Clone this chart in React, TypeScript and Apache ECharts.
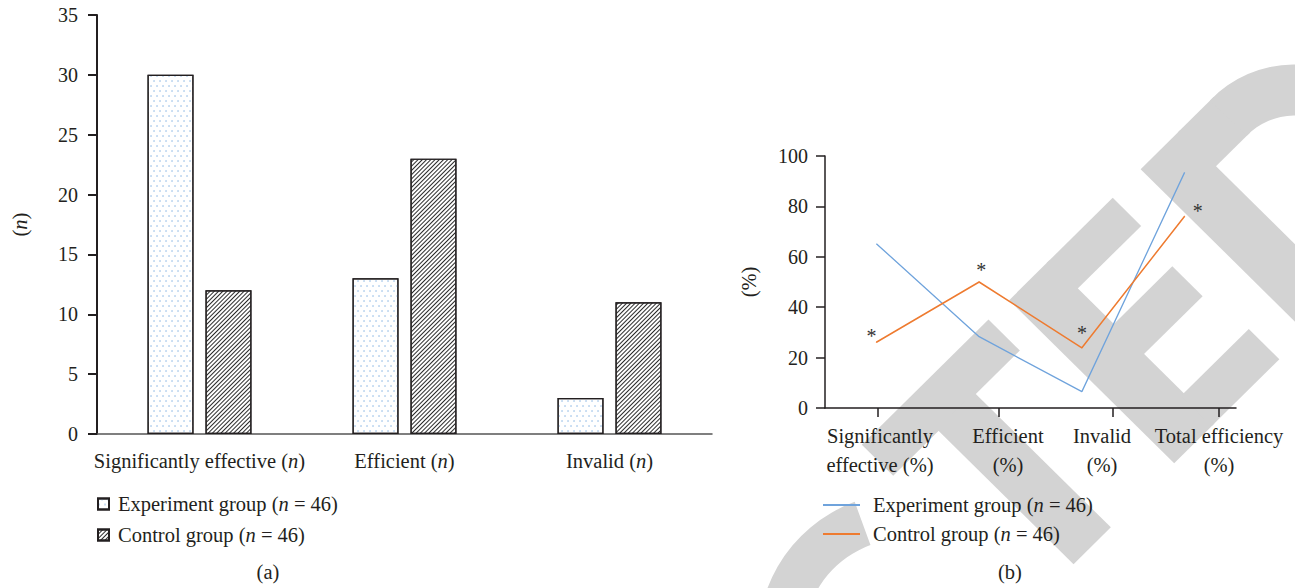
import React, { useEffect, useRef } from 'react';
import * as echarts from 'echarts';

// ---------- data ----------
const barCategories = ['Significantly effective (n)', 'Efficient (n)', 'Invalid (n)'];
const barExperiment = [30, 13, 3];
const barControl = [12, 23, 11];

const lineCategories = ['Significantly\neffective (%)', 'Efficient\n(%)', 'Invalid\n(%)', 'Total efficiency\n(%)'];
const lineExperiment = [65.2, 28.3, 6.5, 93.5];
const lineControl = [26.1, 50.0, 23.9, 76.1];
const significance = ['*', '*', '*', '*'];

const seriesNames = ['Experiment group (n = 46)', 'Control group (n = 46)'];
const panelLabels = ['(a)', '(b)'];

// ---------- styles ----------
const FONT = '"Liberation Serif", "DejaVu Serif", serif';
const FS = 20.5;
const FS_TICK = 20;
const TXT = '#231f20';
const BLUE = '#6fa3dc';
const ORANGE = '#ee7b30';
const GREY = '#d3d3d3';

const italicRich = {
  i: { fontStyle: 'italic', fontFamily: FONT, fontSize: FS, color: TXT },
};
const italicize = (s: string) => s.replace(/\(n/g, '({i|n}');

// watermark helper (rotated letters)
const SX = 2.635;
const SY = 2.667;
const stToPx = (s: number, t: number) => {
  const X = (s + t) / Math.SQRT2;
  const Y = (s - t) / Math.SQRT2;
  return [700 + X / SX, Y / SY];
};
const rectST = (s1: number, s2: number, t1: number, t2: number) => ({
  type: 'polygon',
  silent: true,
  z: -10,
  shape: { points: [stToPx(s1, t1), stToPx(s1, t2), stToPx(s2, t2), stToPx(s2, t1)] },
  style: { fill: GREY },
});

export default function App() {
  const ref = useRef<HTMLDivElement>(null);

  useEffect(() => {
    document.body.style.margin = '0';
    const chart = echarts.init(ref.current!, null, { renderer: 'svg' });

    const tickPos = [0.516, 1.693, 2.803, 3.835];
    const labelPos = [0.535, 1.781, 2.696, 3.835];
    const starOffsets = [[-5, -6], [2, -12], [0, -15], [13, -5]];

    const option: any = {
      animation: false,
      backgroundColor: '#fff',
      textStyle: { fontFamily: FONT },
      grid: [
        { left: 97, top: 15, width: 615, height: 419, outerBoundsMode: 'none' },
        { left: 825, top: 156, width: 411, height: 252, outerBoundsMode: 'none' },
      ],
      xAxis: [
        {
          type: 'category',
          gridIndex: 0,
          data: barCategories,
          axisLine: { lineStyle: { color: '#555', width: 1.5 } },
          axisTick: { alignWithLabel: true, length: 8, lineStyle: { color: TXT, width: 2 } },
          axisLabel: {
            interval: 0,
            margin: 16,
            fontSize: FS,
            fontFamily: FONT,
            color: TXT,
            formatter: (v: string) => italicize(v),
            rich: italicRich,
          },
        },
        {
          type: 'category',
          gridIndex: 1,
          data: lineCategories,
          boundaryGap: true,
          axisLine: { lineStyle: { color: TXT, width: 1.5 } },
          axisTick: { show: false },
          axisLabel: { show: false },
        },
        {
          type: 'value',
          gridIndex: 1,
          min: 0,
          max: 4,
          position: 'bottom',
          axisLine: { show: false },
          splitLine: { show: false },
          axisTick: { show: true, customValues: tickPos, length: 9, lineStyle: { color: TXT, width: 1.5 } },
          axisLabel: {
            customValues: labelPos,
            margin: 13,
            fontSize: FS,
            fontFamily: FONT,
            color: TXT,
            lineHeight: 29,
            align: 'center',
            formatter: (v: number) => {
              let best = 0;
              labelPos.forEach((p, i) => {
                if (Math.abs(p - v) < Math.abs(labelPos[best] - v)) best = i;
              });
              return lineCategories[best];
            },
          },
        },
      ],
      yAxis: [
        {
          type: 'value',
          gridIndex: 0,
          min: 0,
          max: 35,
          interval: 5,
          name: '({i|n})',
          nameLocation: 'middle',
          nameRotate: 90,
          nameGap: 67,
          nameTextStyle: { fontSize: FS, fontFamily: FONT, color: TXT, rich: italicRich },
          axisLine: { show: true, lineStyle: { color: TXT, width: 2 } },
          axisTick: { show: true, length: 9, lineStyle: { color: TXT, width: 2 } },
          axisLabel: { margin: 19, fontSize: FS_TICK, fontFamily: FONT, color: TXT },
          splitLine: { show: false },
        },
        {
          type: 'value',
          gridIndex: 1,
          min: 0,
          max: 100,
          interval: 20,
          name: '(%)',
          nameLocation: 'middle',
          nameRotate: 90,
          nameGap: 66,
          nameTextStyle: { fontSize: FS, fontFamily: FONT, color: TXT },
          axisLine: { show: true, lineStyle: { color: TXT, width: 1.5 } },
          axisTick: { show: true, length: 9, lineStyle: { color: TXT, width: 1.5 } },
          axisLabel: { margin: 17, fontSize: FS_TICK, fontFamily: FONT, color: TXT },
          splitLine: { show: false },
        },
      ],
      legend: [
        {
          orient: 'vertical',
          left: 97,
          top: 493,
          padding: 0,
          itemWidth: 11,
          itemHeight: 11,
          itemGap: 9,
          selectedMode: false,
          data: [
            { name: 'a:' + seriesNames[0], icon: 'rect' },
            { name: 'a:' + seriesNames[1], icon: 'rect' },
          ],
          formatter: (n: string) => italicize(n.slice(2)),
          textStyle: { fontSize: FS, fontFamily: FONT, color: TXT, lineHeight: 22, padding: [0, 0, 0, 4], rich: italicRich },
        },
        {
          orient: 'vertical',
          left: 823,
          top: 494,
          padding: 0,
          itemWidth: 37,
          itemHeight: 2,
          itemGap: 7,
          selectedMode: false,
          data: [
            { name: 'b:' + seriesNames[0], icon: 'rect' },
            { name: 'b:' + seriesNames[1], icon: 'rect' },
          ],
          formatter: (n: string) => italicize(n.slice(2)),
          textStyle: { fontSize: FS, fontFamily: FONT, color: TXT, lineHeight: 22, padding: [0, 0, 0, 8], rich: italicRich },
        },
      ],
      series: [
        {
          type: 'bar',
          name: 'a:' + seriesNames[0],
          xAxisIndex: 0,
          yAxisIndex: 0,
          data: barExperiment,
          barWidth: 46,
          barGap: '26%',
          itemStyle: {
            color: '#ffffff',
            borderColor: TXT,
            borderWidth: 1.2,
            decal: {
              symbol: 'circle',
              symbolSize: 0.7,
              color: '#7eaee0',
              backgroundColor: '#ffffff',
              dashArrayX: [[2, 4], [0, 3, 2, 1]],
              dashArrayY: [2, 3],
              rotation: 0,
            },
          },
        },
        {
          type: 'bar',
          name: 'a:' + seriesNames[1],
          xAxisIndex: 0,
          yAxisIndex: 0,
          data: barControl,
          barWidth: 46,
          itemStyle: {
            color: '#ffffff',
            borderColor: TXT,
            borderWidth: 1.2,
            decal: {
              symbol: 'rect',
              symbolSize: 1,
              color: '#2a2a2a',
              backgroundColor: '#ffffff',
              dashArrayX: [1, 0],
              dashArrayY: [0.9, 1.8],
              rotation: -Math.PI / 4,
            },
          },
        },
        {
          type: 'line',
          name: 'b:' + seriesNames[0],
          xAxisIndex: 1,
          yAxisIndex: 1,
          data: lineExperiment,
          symbol: 'none',
          lineStyle: { color: BLUE, width: 1.3 },
          itemStyle: { color: BLUE },
          z: 3,
        },
        {
          type: 'line',
          name: 'b:' + seriesNames[1],
          xAxisIndex: 1,
          yAxisIndex: 1,
          data: lineControl.map((v, i) => ({ value: v, label: { offset: starOffsets[i] } })),
          symbol: 'circle',
          symbolSize: 1,
          showSymbol: true,
          lineStyle: { color: ORANGE, width: 1.5 },
          itemStyle: { color: ORANGE },
          label: {
            show: true,
            position: 'inside',
            formatter: (p: any) => significance[p.dataIndex],
            fontSize: 20,
            fontFamily: FONT,
            color: '#333',
          },
          z: 4,
        },
      ],
      graphic: [
        // watermark: rotated letters (T, E, D, C arc)
        rectST(1140, 1257, -537, -65),
        rectST(1250, 1760, -368, -229),
        rectST(1142, 1757, 10, 160),
        rectST(1142, 1248, 150, 396),
        rectST(1382, 1495, 150, 378),
        rectST(1643, 1757, 150, 402),
        rectST(1140, 1760, 502, 648),
        rectST(1140, 1275, 640, 775),
        rectST(1625, 1760, 640, 775),
        {
          type: 'sector',
          silent: true,
          z: -10,
          shape: { cx: 1294.3, cy: 181.5, r: 117, r0: 66, startAngle: -3 * Math.PI / 4 - 0.02, endAngle: Math.PI / 4 + 0.02, clockwise: true },
          style: { fill: GREY },
        },
        {
          type: 'sector',
          silent: true,
          z: -10,
          shape: { cx: 905, cy: 640, r: 147, r0: 101, startAngle: (10 * Math.PI) / 180, endAngle: (250 * Math.PI) / 180, clockwise: true },
          style: { fill: GREY },
        },
        {
          type: 'text',
          silent: true,
          style: { text: panelLabels[0], x: 268, y: 572, fontSize: FS, fontFamily: FONT, fill: TXT, textAlign: 'center', textVerticalAlign: 'middle' },
        },
        {
          type: 'text',
          silent: true,
          style: { text: panelLabels[1], x: 1010, y: 572, fontSize: FS, fontFamily: FONT, fill: TXT, textAlign: 'center', textVerticalAlign: 'middle' },
        },
      ],
    };

    chart.setOption(option);
    return () => chart.dispose();
  }, []);

  return <div ref={ref} style={{ width: 1295, height: 588 }} />;
}
